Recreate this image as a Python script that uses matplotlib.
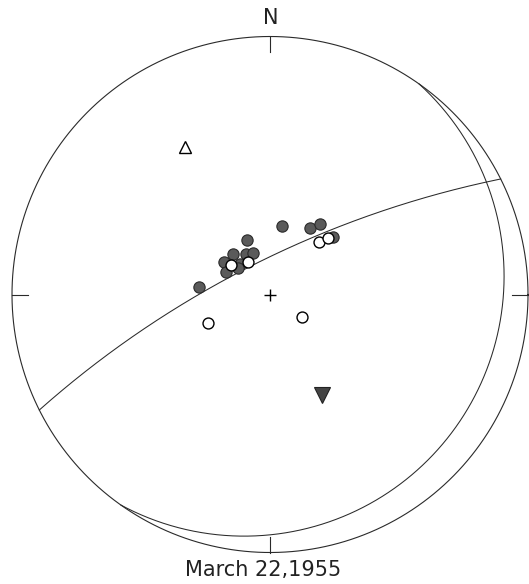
import numpy as np
import matplotlib
matplotlib.use('Agg')
import matplotlib.pyplot as plt

# Net geometry in output pixels (center and radius of the primitive circle).
net = {
    'cx': 270.0,
    'cy': 294.5,
    'r': 258.0,
}

# Nodal planes: strike (deg, dip to the right) and dip (deg).
plane_strike = [243.4, 35.3]
plane_dip = [75.0, 7.0]

comp_x = [0.045, -0.090, 0.155, 0.194, 0.245, -0.274, -0.143, -0.093,
          -0.066, -0.178, -0.116, -0.171, -0.124]
comp_y = [0.266, 0.211, 0.257, 0.273, 0.222, 0.030, 0.157, 0.157,
          0.161, 0.126, 0.118, 0.087, 0.103]
dil_x = [0.191, 0.226, -0.151, -0.085, -0.239, 0.125]
dil_y = [0.205, 0.218, 0.114, 0.126, -0.109, -0.086]

# Axes: P (filled, pointing down) and T (open, pointing up).
p_axis = (0.200, -0.390)
t_axis = (-0.329, 0.572)

title = 'March 22,1955'


def great_circle(strike, dip, n=400):
    """Stereographic (Wulff) lower-hemisphere trace of a plane."""
    s = np.radians(strike)
    d = np.radians(dip)
    dd = s + np.pi / 2
    t = np.linspace(0, np.pi, n)
    sv = np.array([np.sin(s), np.cos(s), 0.0])
    dv = np.array([np.cos(d) * np.sin(dd), np.cos(d) * np.cos(dd), np.sin(d)])
    v = np.outer(np.cos(t), sv) + np.outer(np.sin(t), dv)
    plunge = np.arcsin(np.clip(v[:, 2], -1, 1))
    trend = np.arctan2(v[:, 0], v[:, 1])
    rr = np.tan((np.pi / 2 - plunge) / 2)
    return rr * np.sin(trend), rr * np.cos(trend)


W, H = 529, 584
fig = plt.figure(figsize=(W / 100, H / 100), dpi=100)
ax = fig.add_axes([0, 0, 1, 1])
ax.set_xlim(-net['cx'] / net['r'], (W - net['cx']) / net['r'])
ax.set_ylim((net['cy'] - H) / net['r'], net['cy'] / net['r'])
ax.axis('off')

lc = '#2a2a2a'

# Primitive circle
th = np.linspace(0, 2 * np.pi, 720)
ax.plot(np.cos(th), np.sin(th), color=lc, lw=0.8)

# Ticks at N, E, S, W
tl = 0.062
for az in [0, 90, 180, 270]:
    a = np.radians(az)
    ax.plot([np.sin(a), (1 - tl) * np.sin(a)], [np.cos(a), (1 - tl) * np.cos(a)],
            color=lc, lw=0.8)

# Nodal planes
for s, d in zip(plane_strike, plane_dip):
    gx, gy = great_circle(s, d)
    ax.plot(gx, gy, color=lc, lw=0.75)

# Centre cross
ax.plot(0, 0, marker='+', ms=8, mew=1.0, color='black', ls='none')

# Compressions and dilatations
ax.scatter(comp_x, comp_y, s=66, facecolor='#5a5a5a', edgecolor='#2a2a2a',
           linewidths=0.8, zorder=3)
ax.scatter(dil_x, dil_y, s=62, facecolor='white', edgecolor='black',
           linewidths=1.0, zorder=4)

# P and T axes
ax.plot(*p_axis, marker='v', ms=11, mfc='#444444', mec='#222222', mew=0.8, ls='none')
ax.plot(*t_axis, marker='^', ms=8, mfc='white', mec='black', mew=1.0, ls='none')

# Labels
ax.text(0.004, (net['cy'] - 18) / net['r'], 'N', ha='center', va='center',
        fontsize=15, family='DejaVu Sans', color='#222222')
ax.text(-0.027, (net['cy'] - 570) / net['r'], title, ha='center', va='center',
        fontsize=15, family='DejaVu Sans', color='#222222')

fig.savefig('out.png', dpi=100)
